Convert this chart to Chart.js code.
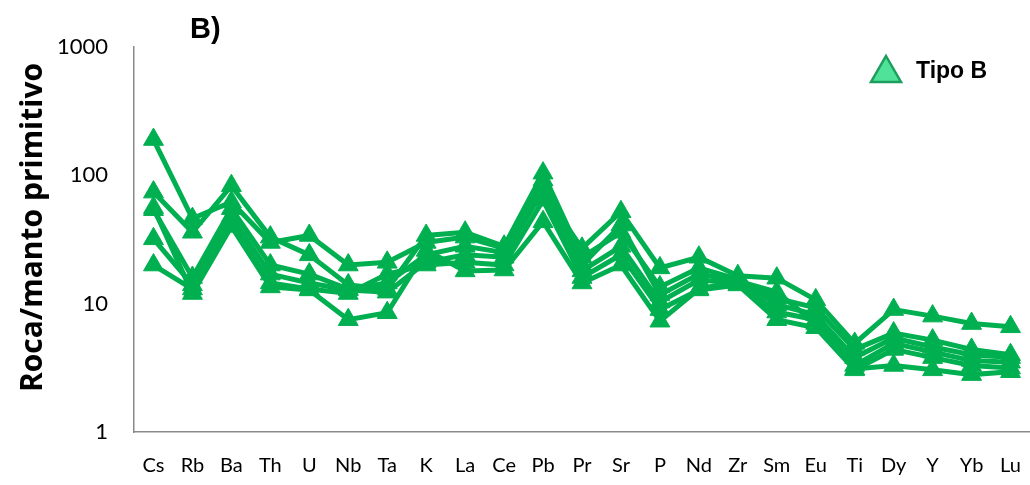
<!DOCTYPE html>
<html>
<head>
<meta charset="utf-8">
<script src="https://cdn.jsdelivr.net/npm/chart.js@4"></script>
<style>
  html, body { margin: 0; padding: 0; background: #fff; }
  #wrap { width: 1030px; height: 485px; }
</style>
</head>
<body>
<div id="wrap"><canvas id="spider" width="1030" height="485"></canvas></div>
<script>
// elements normalised to primitive mantle, samples of type B
const elements = ['Cs', 'Rb', 'Ba', 'Th', 'U', 'Nb', 'Ta', 'K', 'La', 'Ce', 'Pb', 'Pr',
  'Sr', 'P', 'Nd', 'Zr', 'Sm', 'Eu', 'Ti', 'Dy', 'Y', 'Yb', 'Lu'];

const sample1 = [190, 46, 62, 30, 34, 20, 21, 30, 33, 27, 75, 27, 52, 19, 23, 16.5, 15.8, 10.7, 4.9, 9, 8, 7, 6.6];
const sample2 = [74, 36, 83, 33, 24, 14, 13, 34, 36, 28, 104, 23, 36, 13.5, 19, 15.5, 11, 9.3, 4.4, 5.9, 5.2, 4.4, 4];
const sample3 = [54, 16, 55, 20, 17, 13, 14.5, 24, 28, 25, 92, 20, 41, 11.7, 17, 15, 9.8, 8.2, 3.8, 5.4, 4.6, 4, 3.8];
const sample4 = [32, 14, 48, 17, 14.5, 12.8, 12.3, 21, 24, 23, 77, 18, 28, 10.3, 15.3, 14.5, 8.6, 7.5, 3.3, 4.9, 4.2, 3.6, 3.5];
const sample5 = [20, 13, 42, 14.5, 13, 12, 17, 20, 21, 20, 64, 16, 24, 9, 12.8, 14, 7.5, 6.5, 3.05, 4.4, 3.8, 3.3, 3.15];
const sample6 = [56, 12, 40, 13.5, 12.8, 7.5, 8.5, 26, 18, 18.3, 43.5, 14.5, 20, 7.3, 13, 15, 12.3, 7, 3.1, 3.3, 3.05, 2.8, 2.95];

const yTicks = [1, 10, 100, 1000];
const yTitle = 'Roca/manto primitivo';

const green = '#00B050';
const samples = [sample1, sample2, sample3, sample4, sample5, sample6];

const datasets = samples.map((s, i) => ({
  label: 'Tipo B ' + (i + 1),
  data: s,
  borderColor: green,
  backgroundColor: green,
  borderWidth: 5,
  pointStyle: 'triangle',
  pointRadius: 11.5,
  pointBorderWidth: 1,
  pointBackgroundColor: green,
  pointBorderColor: green,
  tension: 0,
}));

// panel letter, axis title and the single legend entry
const decorations = {
  id: 'decorations',
  afterDraw(chart) {
    const ctx = chart.ctx;
    const area = chart.chartArea;
    ctx.save();
    ctx.fillStyle = '#000';
    ctx.font = 'bold 29px "Liberation Sans", Arial, sans-serif';
    ctx.textBaseline = 'alphabetic';
    ctx.textAlign = 'left';
    ctx.fillText('B)', 190, 38);

    // rotated y title, a bit above the middle of the axis
    ctx.save();
    ctx.translate(33, (area.top + area.bottom) / 2 - 12);
    ctx.rotate(-Math.PI / 2);
    ctx.textAlign = 'center';
    ctx.textBaseline = 'middle';
    ctx.font = 'bold 30px "Open Sans", sans-serif';
    ctx.fillText(yTitle, 0, 0);
    ctx.restore();

    // legend marker
    const cx = area.right - 144, cy = area.top + 22;
    ctx.beginPath();
    ctx.moveTo(cx, cy - 13);
    ctx.lineTo(cx + 15, cy + 13);
    ctx.lineTo(cx - 15, cy + 13);
    ctx.closePath();
    ctx.fillStyle = '#4FE39A';
    ctx.fill();
    ctx.lineWidth = 2.5;
    ctx.strokeStyle = '#1E9E5E';
    ctx.stroke();

    ctx.fillStyle = '#000';
    ctx.font = 'bold 23px "Liberation Sans", Arial, sans-serif';
    ctx.textAlign = 'left';
    ctx.textBaseline = 'middle';
    ctx.fillText('Tipo B', cx + 30, cy + 3);
    ctx.restore();
  }
};

new Chart(document.getElementById('spider'), {
  type: 'line',
  data: { labels: elements, datasets },
  plugins: [decorations],
  options: {
    responsive: false,
    animation: false,
    devicePixelRatio: 1,
    layout: { autoPadding: false, padding: { top: 47, left: 0, right: 0, bottom: 0 } },
    plugins: {
      legend: { display: false },
      tooltip: { enabled: false },
    },
    scales: {
      x: {
        type: 'category',
        offset: true,
        grid: { display: false, drawTicks: false },
        border: { display: true, color: '#8a8a8a', width: 1.5 },
        ticks: {
          color: '#000',
          padding: 22,
          maxRotation: 0,
          autoSkip: false,
          font: { family: 'Lato, sans-serif', size: 20 },
        },
        afterFit(scale) {
          scale.height = 53;
          scale.paddingLeft = 0;
          scale.paddingRight = 0;
        },
      },
      y: {
        type: 'logarithmic',
        min: 1,
        max: 1000,
        grid: { display: false, drawTicks: false },
        border: { display: true, color: '#8a8a8a', width: 1.5 },
        afterBuildTicks(scale) {
          scale.ticks = yTicks.map((v) => ({ value: v }));
        },
        ticks: {
          color: '#000',
          padding: 26,
          font: { family: 'Lato, sans-serif', size: 22 },
          callback: (v) => String(v),
        },
        afterFit(scale) { scale.width = 134; },
      },
    },
  },
});
</script>
</body>
</html>
